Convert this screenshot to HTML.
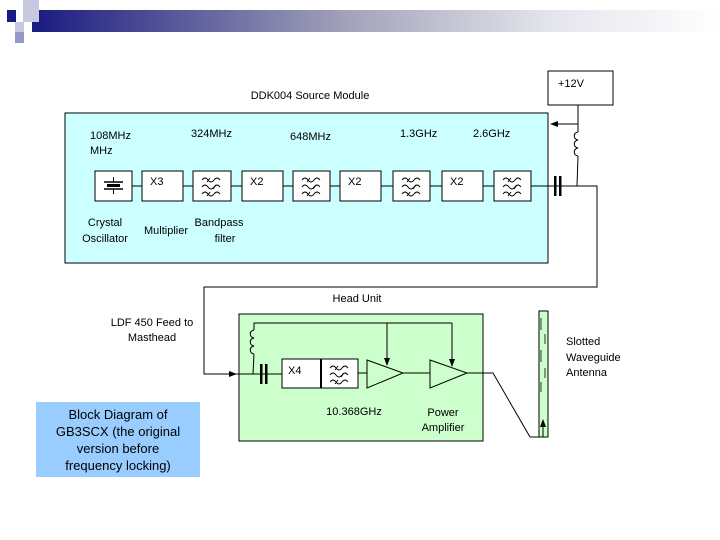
<!DOCTYPE html>
<html><head><meta charset="utf-8"><style>
body{margin:0;background:#fff;}
svg{display:block;font-family:"Liberation Sans",Arial,sans-serif;}
</style></head><body>
<svg width="720" height="540" viewBox="0 0 720 540" xmlns="http://www.w3.org/2000/svg">
<defs>
<linearGradient id="g" x1="0" x2="1" y1="0" y2="0">
<stop offset="0" stop-color="#1a1a80"/><stop offset="0.45" stop-color="#a0a0b8"/><stop offset="0.75" stop-color="#e4e4ec"/><stop offset="1" stop-color="#ffffff"/>
</linearGradient>
<g id="flt">
<path d="M6 8 q3 -4 6 0 q3 4 6 0 q3 -4 6 0" fill="none" stroke="#000" stroke-width="0.9"/>
<path d="M6 15 q3 -4 6 0 q3 4 6 0 q3 -4 6 0" fill="none" stroke="#000" stroke-width="0.9"/>
<path d="M6 22 q3 -4 6 0 q3 4 6 0 q3 -4 6 0" fill="none" stroke="#000" stroke-width="0.9"/>
<path d="M11 10 l3 -4 M17 17 l3 -4 M11 24 l3 -4" stroke="#000" stroke-width="0.9"/>
</g>
<marker id="ar" markerWidth="8" markerHeight="8" refX="7" refY="4" orient="auto" markerUnits="userSpaceOnUse"><path d="M0 1 L8 4 L0 7z" fill="#000"/></marker>
</defs>
<!-- header -->
<rect x="32" y="10" width="688" height="22" fill="url(#g)"/>
<rect x="23" y="0" width="16" height="22" fill="#c8c8e0"/>
<rect x="7" y="10" width="9" height="12" fill="#1a1a80"/>
<rect x="15" y="22" width="9" height="10" fill="#c8c8e0"/>
<rect x="15" y="32" width="9" height="11" fill="#9898c8"/>

<!-- source module -->
<text x="310" y="99" font-size="11" text-anchor="middle">DDK004 Source Module</text>
<rect x="65" y="113" width="483" height="150" fill="#ccffff" stroke="#000" stroke-width="1"/>
<g font-size="11">
<text x="90" y="139">108MHz</text><text x="90" y="154">MHz</text>
<text x="191" y="137">324MHz</text>
<text x="290" y="140">648MHz</text>
<text x="400" y="137">1.3GHz</text>
<text x="473" y="137">2.6GHz</text>
<text x="105" y="226" text-anchor="middle">Crystal</text><text x="105" y="242" text-anchor="middle">Oscillator</text>
<text x="166" y="234" text-anchor="middle">Multiplier</text>
<text x="219" y="226" text-anchor="middle">Bandpass</text><text x="225" y="242" text-anchor="middle">filter</text>
</g>
<line x1="132" y1="186" x2="578" y2="186" stroke="#000"/>
<g fill="#fff" stroke="#000">
<rect x="95" y="171" width="37" height="30"/>
<rect x="142" y="171" width="41" height="30"/>
<rect x="193" y="171" width="38" height="30"/>
<rect x="242" y="171" width="41" height="30"/>
<rect x="293" y="171" width="37" height="30"/>
<rect x="340" y="171" width="41" height="30"/>
<rect x="393" y="171" width="37" height="30"/>
<rect x="442" y="171" width="41" height="30"/>
<rect x="494" y="171" width="37" height="30"/>
</g>
<g font-size="11"><text x="150" y="185">X3</text><text x="250" y="185">X2</text><text x="348" y="185">X2</text><text x="450" y="185">X2</text></g>
<!-- crystal icon -->
<line x1="104" y1="182" x2="123" y2="182" stroke="#000" stroke-width="1.5"/>
<line x1="104" y1="189" x2="123" y2="189" stroke="#000" stroke-width="1.5"/>
<rect x="107" y="184" width="13" height="3" fill="#000"/>
<line x1="113.5" y1="177" x2="113.5" y2="182" stroke="#000"/>
<line x1="113.5" y1="189" x2="113.5" y2="194" stroke="#000"/>
<use href="#flt" x="196" y="172"/><use href="#flt" x="296" y="172"/><use href="#flt" x="396" y="172"/><use href="#flt" x="497" y="172"/>
<!-- capacitor -->
<rect x="554" y="176" width="2.5" height="20" fill="#000"/><rect x="559" y="176" width="2.5" height="20" fill="#000"/>
<!-- +12V -->
<rect x="548" y="71" width="65" height="34" fill="#fff" stroke="#000"/>
<text x="558" y="87" font-size="11">+12V</text>
<line x1="578" y1="105" x2="578" y2="132" stroke="#000"/>
<line x1="578" y1="124" x2="551" y2="124" stroke="#000" marker-end="url(#ar)"/>
<path d="M578 132 c-5 1 -5 7 0 8 c-5 1 -5 7 0 8 c-5 1 -5 7 0 8" fill="none" stroke="#000"/>
<line x1="578" y1="156" x2="577" y2="186" stroke="#000"/>
<polyline points="578,186 597,186 597,287 204,287 204,374 239,374" fill="none" stroke="#000"/>
<text x="152" y="326" font-size="11" text-anchor="middle">LDF 450 Feed to</text>
<text x="152" y="341" font-size="11" text-anchor="middle">Masthead</text>

<!-- head unit -->
<text x="357" y="302" font-size="11" text-anchor="middle">Head Unit</text>
<rect x="239" y="314" width="244" height="127" fill="#ccffcc" stroke="#000"/>
<line x1="204" y1="374" x2="236" y2="374" stroke="#000" marker-end="url(#ar)"/>
<line x1="236" y1="374" x2="282" y2="374" stroke="#000"/>
<rect x="260" y="364" width="2.5" height="20" fill="#000"/><rect x="265" y="364" width="2.5" height="20" fill="#000"/>
<line x1="253" y1="374" x2="254" y2="354" stroke="#000"/>
<path d="M254 354 c-5 -1 -5 -7 0 -8 c-5 -1 -5 -7 0 -8 c-5 -1 -5 -7 0 -8" fill="none" stroke="#000"/>
<polyline points="254,330 254,323 452,323" fill="none" stroke="#000"/>
<line x1="387" y1="323" x2="387" y2="365" stroke="#000" marker-end="url(#ar)"/>
<line x1="452" y1="323" x2="452" y2="366" stroke="#000" marker-end="url(#ar)"/>
<rect x="282" y="359" width="39" height="29" fill="#fff" stroke="#000"/>
<rect x="321" y="359" width="37" height="29" fill="#fff" stroke="#000"/>
<line x1="321" y1="359" x2="321" y2="388" stroke="#000" stroke-width="2"/>
<text x="288" y="374" font-size="11">X4</text>
<use href="#flt" x="324" y="360"/>
<line x1="358" y1="373" x2="367" y2="373" stroke="#000"/>
<polygon points="367,360 403,373 367,388" fill="none" stroke="#000"/>
<line x1="403" y1="373" x2="430" y2="373" stroke="#000"/>
<polygon points="430,360 467,373 430,388" fill="none" stroke="#000"/>
<text x="354" y="415" font-size="11" text-anchor="middle">10.368GHz</text>
<text x="443" y="416" font-size="11" text-anchor="middle">Power</text>
<text x="443" y="431" font-size="11" text-anchor="middle">Amplifier</text>
<!-- antenna -->
<rect x="539" y="311" width="9" height="126" fill="#ccffcc" stroke="#000"/>
<g stroke="#000" stroke-width="0.8"><line x1="541" y1="318" x2="541" y2="330"/><line x1="545" y1="334" x2="545" y2="344"/><line x1="541" y1="350" x2="541" y2="362"/><line x1="545" y1="368" x2="545" y2="378"/><line x1="541" y1="382" x2="541" y2="392"/></g>
<polyline points="467,373 493,373 530,437 543,437" fill="none" stroke="#000"/>
<line x1="543" y1="437" x2="543" y2="420" stroke="#000" marker-end="url(#ar)"/>
<text x="566" y="345" font-size="11">Slotted</text>
<text x="566" y="361" font-size="11">Waveguide</text>
<text x="566" y="376" font-size="11">Antenna</text>

<!-- caption -->
<rect x="36" y="402" width="164" height="75" fill="#99ccff"/>
<g font-size="13" text-anchor="middle"><text x="118" y="419">Block Diagram of</text><text x="118" y="436">GB3SCX (the original</text><text x="118" y="453">version before</text><text x="118" y="470">frequency locking)</text></g>
</svg>
</body></html>
